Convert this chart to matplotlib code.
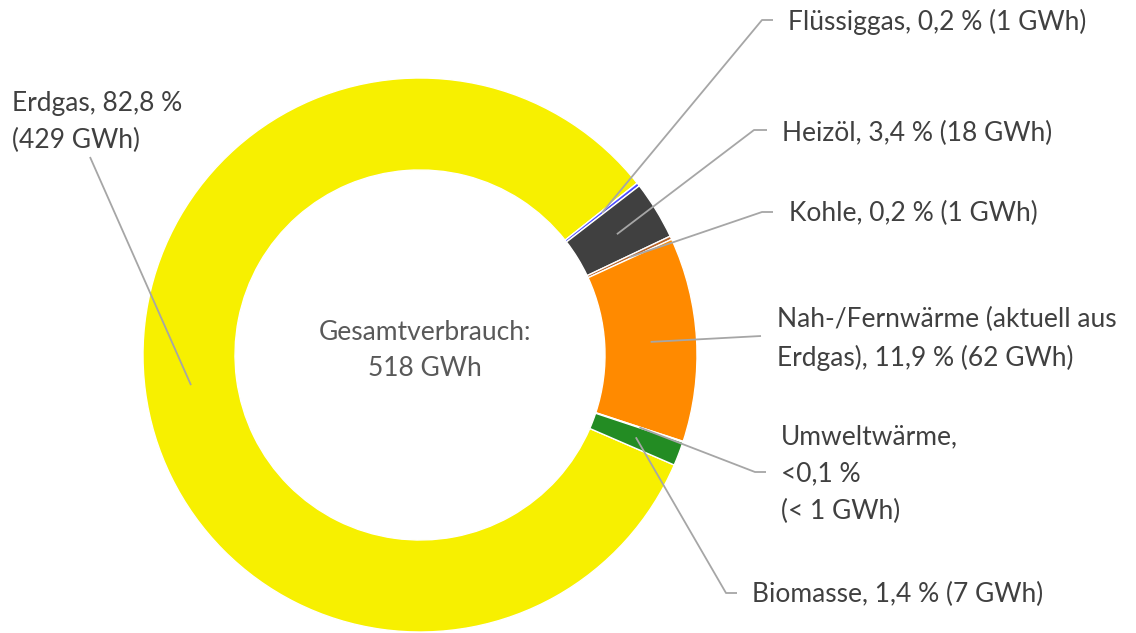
import numpy as np
import matplotlib
matplotlib.use("Agg")
import matplotlib.pyplot as plt

# Wärmeverbrauch nach Energieträgern
categories = ["Erdgas", "Flüssiggas", "Heizöl", "Kohle",
              "Nah-/Fernwärme", "Umweltwärme", "Biomasse"]
shares = [82.8, 0.2, 3.4, 0.2, 11.9, 0.05, 1.4]      # %
gwh = [429, 1, 18, 1, 62, 0.3, 7]
label_texts = [
    "Erdgas, 82,8 %\n(429 GWh)",
    "Flüssiggas, 0,2 % (1 GWh)",
    "Heizöl, 3,4 % (18 GWh)",
    "Kohle, 0,2 % (1 GWh)",
    "Nah-/Fernwärme (aktuell aus\nErdgas), 11,9 % (62 GWh)",
    "Umweltwärme,\n<0,1 %\n(< 1 GWh)",
    "Biomasse, 1,4 % (7 GWh)",
]
total_label = "Gesamtverbrauch:\n518 GWh"

colors = ["#F7F000", "#4B4BFF", "#404040", "#B8652A",
          "#FF8A00", "#9DC3E6", "#238C23"]

W, H = 1136, 633
def py(y):
    # picture y (down) -> axes y (up)
    return H - y

# layout (pixel positions in the picture)
cx, cy, R, r_in = 420, 355, 277, 185
# text x, text y (center), elbow x, elbow y, elbow end x (None = no horizontal)
label_layout = [
    (12, 122, 90, 157, None),
    (788, 22, 762, 20, 773),
    (782, 133, 754, 130, 767),
    (789, 213, 762, 212, 773),
    (777, 339, 761, 336, None),
    (781, 474, 755, 472, 766),
    (752, 594, 726, 593, 737),
]

fig = plt.figure(figsize=(W / 100, H / 100), dpi=100)
ax = fig.add_axes([0, 0, 1, 1])

wedges, _ = ax.pie(shares, colors=colors, startangle=-23.4, counterclock=False,
                   radius=R, center=(cx, py(cy)),
                   wedgeprops=dict(width=R - r_in, edgecolor="white", linewidth=1.0))

ax.set_xlim(0, W)
ax.set_ylim(0, H)
ax.set_aspect("equal")
ax.axis("off")

font = "Lato"
fs = 19
r_mid = (R + r_in) / 2
for w, txt, (tx, ty, ex, ey, hx) in zip(wedges, label_texts, label_layout):
    ang = np.deg2rad((w.theta1 + w.theta2) / 2)
    ax_x = cx + r_mid * np.cos(ang)
    ax_y = py(cy) + r_mid * np.sin(ang)
    xs = [ax_x, ex]
    ys = [ax_y, py(ey)]
    if hx is not None:
        xs.append(hx)
        ys.append(py(ey))
    ax.plot(xs, ys, color="#A6A6A6", lw=1.3, solid_capstyle="butt")
    ax.text(tx, py(ty), txt, ha="left", va="center", fontsize=fs,
            family=font, color="#404040", linespacing=1.62)

ax.text(cx + 5, py(350), total_label, ha="center", va="center", fontsize=fs,
        family=font, color="#595959", linespacing=1.55)

fig.savefig("out.png", dpi=100)
